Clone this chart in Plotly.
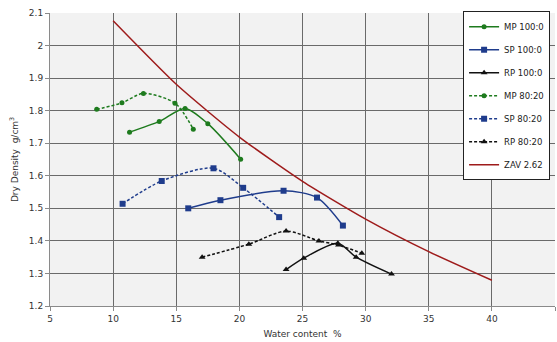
import plotly.graph_objects as go

# Data
mp100_x = [11.3, 13.65, 15.7, 17.5, 20.1]
mp100_y = [1.734, 1.767, 1.807, 1.760, 1.651]
sp100_x = [15.95, 18.5, 23.5, 26.15, 28.2]
sp100_y = [1.500, 1.525, 1.554, 1.533, 1.447]
rp100_x = [23.7, 25.1, 27.8, 29.25, 32.05]
rp100_y = [1.312, 1.347, 1.393, 1.350, 1.298]
mp80_x = [8.7, 10.7, 12.4, 14.9, 16.35]
mp80_y = [1.804, 1.824, 1.853, 1.823, 1.743]
sp80_x = [10.75, 13.85, 17.95, 20.3, 23.15]
sp80_y = [1.514, 1.584, 1.623, 1.563, 1.473]
rp80_x = [17.05, 20.75, 23.7, 26.3, 27.85, 29.7]
rp80_y = [1.350, 1.390, 1.430, 1.400, 1.387, 1.362]
zav_x = [10, 15, 20, 25, 30, 35, 40]
zav_y = [2.076, 1.881, 1.719, 1.583, 1.467, 1.367, 1.279]

green = "#1e7b1e"
blue = "#1f3c8c"
black = "#111111"
red = "#9e1b1b"
font = "DejaVu Sans"

series = [
    ("MP 100:0", mp100_x, mp100_y, green, "solid", "circle", 5),
    ("SP 100:0", sp100_x, sp100_y, blue, "solid", "square", 6),
    ("RP 100:0", rp100_x, rp100_y, black, "solid", "triangle-up", 6),
    ("MP 80:20", mp80_x, mp80_y, green, "3px,2px", "circle", 5),
    ("SP 80:20", sp80_x, sp80_y, blue, "3px,2px", "square", 6),
    ("RP 80:20", rp80_x, rp80_y, black, "3px,2px", "triangle-up", 6),
]

fig = go.Figure()
for i, (name, xs, ys, col, dash, sym, sz) in enumerate(series):
    fig.add_trace(go.Scatter(
        x=xs, y=ys, name=name, mode="lines+markers", legendgroup=f"g{i}",
        line=dict(color=col, width=1.5, dash=dash, shape="spline", smoothing=0.8),
        marker=dict(color=col, symbol=sym, size=sz),
    ))
fig.add_trace(go.Scatter(
    x=zav_x, y=zav_y, name="ZAV 2.62", mode="lines", legendgroup="g6",
    line=dict(color=red, width=1.5, shape="spline", smoothing=0.6),
))

axis_common = dict(
    showgrid=True, gridcolor="#6a6a6a", gridwidth=1,
    showline=True, linecolor="#8a8a8a", linewidth=1,
    ticks="outside", ticklen=4, tickcolor="#8a8a8a",
    tickfont=dict(family=font, size=9, color="#333333"),
    zeroline=False,
)

fig.update_layout(
    width=557, height=342,
    margin=dict(l=50, r=2, t=13, b=36),
    paper_bgcolor="white", plot_bgcolor="#f2f2f2",
    font=dict(family=font, size=9, color="#333333"),
    xaxis=dict(range=[5, 45], dtick=5, tick0=5,
               title=dict(text="Water content  %", font=dict(family=font, size=9), standoff=7),
               **axis_common),
    yaxis=dict(range=[1.2, 2.1], dtick=0.1, tick0=1.2,
               title=dict(text="Dry Density  g/cm<sup>3</sup>", font=dict(family=font, size=9), standoff=8),
               **axis_common),
    legend=dict(x=0.818, y=1.006, xanchor="left", yanchor="top",
                bgcolor="white", bordercolor="#222222", borderwidth=1,
                font=dict(family=font, size=8.5, color="#222222"),
                tracegroupgap=4, itemwidth=30),
    showlegend=True,
)

fig.write_html("out.html")
